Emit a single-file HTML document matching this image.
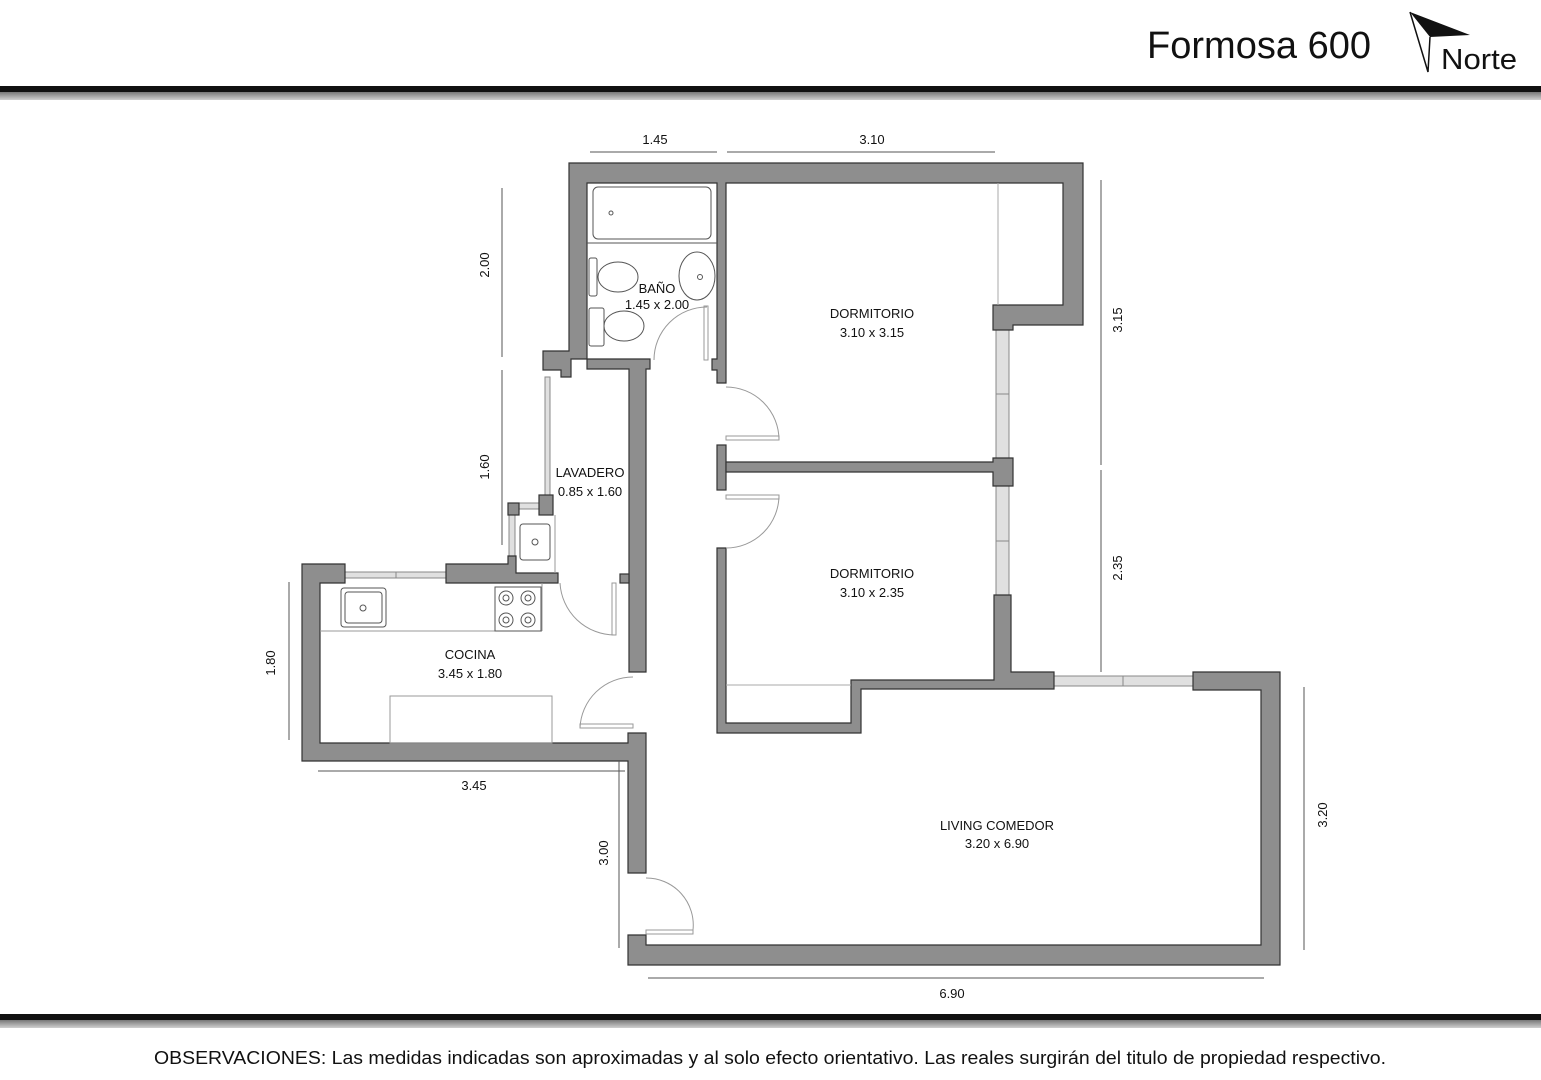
<!DOCTYPE html>
<html><head><meta charset="utf-8"><style>
html,body{margin:0;padding:0;background:#fff;}
svg{display:block;font-family:"Liberation Sans",sans-serif;}
</style></head><body>
<svg width="1541" height="1080" viewBox="0 0 1541 1080" xmlns="http://www.w3.org/2000/svg">
<defs>
<linearGradient id="g" x1="0" y1="0" x2="0" y2="1"><stop offset="0" stop-color="#777"/><stop offset="1" stop-color="#d0d0d0"/></linearGradient>
</defs>
<!-- header -->
<text x="1147" y="58" font-size="38" fill="#111" textLength="224">Formosa 600</text>
<polygon points="1410,12 1470,35 1430,37" fill="#111"/>
<polyline points="1410,12 1428,72 1430,37" fill="none" stroke="#111" stroke-width="1.5"/>
<text x="1441" y="69" font-size="29" fill="#111" textLength="76" lengthAdjust="spacingAndGlyphs">Norte</text>
<rect x="0" y="86" width="1541" height="6" fill="#111"/>
<rect x="0" y="92" width="1541" height="8" fill="url(#g)"/>
<rect x="0" y="1014" width="1541" height="6" fill="#111"/>
<rect x="0" y="1020" width="1541" height="8" fill="url(#g)"/>
<text x="770" y="1064" font-size="18" fill="#111" text-anchor="middle" textLength="1232" lengthAdjust="spacingAndGlyphs">OBSERVACIONES: Las medidas indicadas son aproximadas y al solo efecto orientativo. Las reales surgirán del titulo de propiedad respectivo.</text>

<!-- windows (light) -->
<g fill="#e0e0e0" stroke="#888" stroke-width="1">
<rect x="996" y="330" width="13" height="128"/>
<rect x="996" y="486" width="13" height="111"/>
<rect x="1054" y="676" width="139" height="10"/>
<rect x="345" y="572" width="101" height="6"/>
<rect x="545" y="377" width="5" height="120"/>
<rect x="519" y="503" width="20" height="6"/>
<rect x="509" y="515" width="6" height="45"/>
</g>
<g stroke="#888" stroke-width="1">
<line x1="996" y1="394" x2="1009" y2="394"/><line x1="996" y1="541" x2="1009" y2="541"/>
<line x1="1123" y1="676" x2="1123" y2="686"/><line x1="396" y1="572" x2="396" y2="578"/>
</g>

<!-- walls -->
<g fill="#8e8e8e" stroke="#333" stroke-width="1.2">
<path d="M569,163 H1083 V325 H1013 V330 H993 V305 H1063 V183 H726 V383 H717 V370 H712 V359 H717 V183 H587 V359 H650 V369 H646 V672 H629 V369 H587 V359 H571 V377 H561 V370 H543 V351 H569 Z"/>
<rect x="717" y="445" width="9" height="45"/>
<path d="M726,462 H993 V458 H1013 V486 H993 V472 H726 Z"/>
<path d="M717,548 H726 V723 H851 V680 H994 V595 H1011 V672 H1054 V689 H861 V733 H717 Z"/>
<path d="M1193,672 H1280 V965 H628 V935 H646 V945 H1261 V690 H1193 Z"/>
<path d="M628,733 H646 V873 H628 V761 H302 V564 H345 V583 H320 V743 H628 Z"/>
<path d="M446,564 H508 V556 H516 V573 H558 V583 H446 Z"/>
<rect x="508" y="503" width="11" height="12"/>
<rect x="539" y="495" width="14" height="20"/>
<rect x="620" y="574" width="9" height="9"/>
</g>

<!-- fixtures -->
<g fill="none" stroke="#555" stroke-width="1">
<rect x="593" y="187" width="118" height="52" rx="5"/>
<line x1="587" y1="243" x2="717" y2="243"/>
<circle cx="611" cy="213" r="2"/>
<ellipse cx="618" cy="277" rx="20" ry="15"/><rect x="589" y="258" width="8" height="38" rx="2"/>
<ellipse cx="624" cy="326" rx="20" ry="15"/><rect x="589" y="308" width="15" height="38" rx="2"/>
<ellipse cx="697" cy="276" rx="18" ry="24"/>
<circle cx="700" cy="277" r="2.5"/>
<path d="M654,360 A53,53 0 0 1 707,307" stroke="#999"/>
<rect x="704" y="306" width="4" height="54" stroke="#999"/>
<path d="M726,387 A53,53 0 0 1 779,440" stroke="#999"/>
<rect x="726" y="436" width="53" height="4" stroke="#999"/>
<path d="M726,548 A53,53 0 0 0 779,495" stroke="#999"/>
<rect x="726" y="495" width="53" height="4" stroke="#999"/>
<path d="M646,878 A47,47 0 0 1 693,930" stroke="#999"/>
<rect x="646" y="930" width="47" height="4" stroke="#999"/>
<path d="M633,677 A53,53 0 0 0 580,728" stroke="#999"/>
<rect x="580" y="724" width="53" height="4" stroke="#999"/>
<path d="M560,583 A55,55 0 0 0 615,635" stroke="#999"/>
<rect x="612" y="583" width="4" height="52" stroke="#999"/>
<line x1="998" y1="183" x2="998" y2="305" stroke="#aaa"/>
<line x1="726" y1="685" x2="851" y2="685" stroke="#aaa"/>
<line x1="320" y1="631" x2="542" y2="631" stroke="#999"/>
<line x1="542" y1="583" x2="542" y2="631" stroke="#999"/>
<rect x="341" y="588" width="45" height="39" rx="3"/>
<rect x="345" y="592" width="37" height="31" rx="3"/>
<circle cx="363" cy="608" r="3"/>
<rect x="495" y="587" width="46" height="44"/>
<circle cx="506" cy="598" r="7"/><circle cx="528" cy="598" r="7"/>
<circle cx="506" cy="620" r="7"/><circle cx="528" cy="620" r="7"/>
<circle cx="506" cy="598" r="3"/><circle cx="528" cy="598" r="3"/>
<circle cx="506" cy="620" r="3"/><circle cx="528" cy="620" r="3"/>
<rect x="520" y="524" width="30" height="36" rx="3"/>
<circle cx="535" cy="542" r="3"/>
<rect x="390" y="696" width="162" height="47" stroke="#999"/>
<line x1="555" y1="515" x2="555" y2="573" stroke="#999"/>
</g>

<!-- dimension lines -->
<g stroke="#555" stroke-width="1">
<line x1="590" y1="152" x2="717" y2="152"/><line x1="727" y1="152" x2="995" y2="152"/>
<line x1="502" y1="188" x2="502" y2="357"/><line x1="502" y1="370" x2="502" y2="545"/>
<line x1="1101" y1="180" x2="1101" y2="465"/><line x1="1101" y1="470" x2="1101" y2="672"/>
<line x1="289" y1="582" x2="289" y2="740"/>
<line x1="318" y1="771" x2="625" y2="771"/>
<line x1="619" y1="760" x2="619" y2="948"/>
<line x1="1304" y1="687" x2="1304" y2="950"/>
<line x1="648" y1="978" x2="1264" y2="978"/>
</g>
<g fill="#111" font-size="13" text-anchor="middle">
<text x="655" y="144">1.45</text><text x="872" y="144">3.10</text>
<text x="474" y="790">3.45</text><text x="952" y="998">6.90</text>
<text transform="translate(489,265) rotate(-90)">2.00</text>
<text transform="translate(489,467) rotate(-90)">1.60</text>
<text transform="translate(275,663) rotate(-90)">1.80</text>
<text transform="translate(608,853) rotate(-90)">3.00</text>
<text transform="translate(1122,320) rotate(-90)">3.15</text>
<text transform="translate(1122,568) rotate(-90)">2.35</text>
<text transform="translate(1327,815) rotate(-90)">3.20</text>
<text x="657" y="293">BAÑO</text><text x="657" y="309">1.45 x 2.00</text>
<text x="872" y="318">DORMITORIO</text><text x="872" y="337">3.10 x 3.15</text>
<text x="590" y="477">LAVADERO</text><text x="590" y="496">0.85 x 1.60</text>
<text x="872" y="578">DORMITORIO</text><text x="872" y="597">3.10 x 2.35</text>
<text x="470" y="659">COCINA</text><text x="470" y="678">3.45 x 1.80</text>
<text x="997" y="830">LIVING COMEDOR</text><text x="997" y="848">3.20 x 6.90</text>
</g>
</svg>
</body></html>
